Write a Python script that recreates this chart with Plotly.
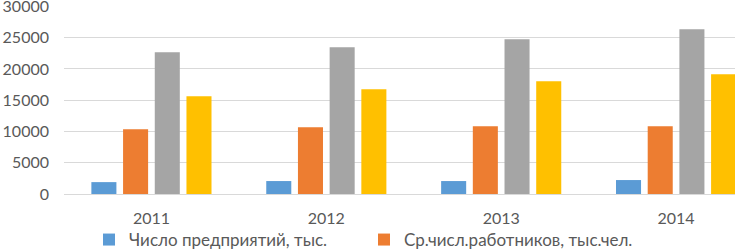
import plotly.graph_objects as go

years = ["2011", "2012", "2013", "2014"]
enterprises = [1900, 2070, 2070, 2230]
employees = [10370, 10690, 10850, 10850]
series3 = [22660, 23460, 24730, 26330]
series4 = [15640, 16750, 18030, 19150]

names = ["Число предприятий, тыс.", "Ср.числ.работников, тыс.чел.", "Ряд 3", "Ряд 4"]
colors = ["#5B9BD5", "#ED7D31", "#A5A5A5", "#FFC000"]
values = [enterprises, employees, series3, series4]
show = [True, True, False, False]

fig = go.Figure()
for n, v, c, s in zip(names, values, colors, show):
    fig.add_trace(go.Bar(x=years, y=v, name=n, marker=dict(color=c, line=dict(width=0)),
                         showlegend=s))

FONT = "Lato, 'Liberation Sans', sans-serif"
fig.update_layout(
    width=735, height=250,
    margin=dict(l=63.5, r=0, t=5.62, b=56, autoexpand=False),
    paper_bgcolor="white", plot_bgcolor="white",
    barmode="group", bargap=0.275, bargroupgap=0.21,
    font=dict(family=FONT, color="#595959"),
    showlegend=True,
    legend=dict(orientation="h", xref="container", yref="container",
                x=89 / 735, xanchor="left", y=1 - 240 / 250, yanchor="middle",
                font=dict(size=17, color="#595959"), entrywidth=230,
                itemwidth=30, bgcolor="rgba(0,0,0,0)"),
)
fig.update_xaxes(type="category", range=[-0.5, 3.337], showgrid=False, showline=False,
                 automargin=False,
                 ticks="", tickfont=dict(size=16, color="#595959"), ticklabelstandoff=13)
fig.update_yaxes(range=[0, 30060], dtick=5000, showgrid=True, gridcolor="#D9D9D9", gridwidth=1,
                 zeroline=True, zerolinecolor="#D9D9D9", zerolinewidth=1, showline=False,
                 automargin=False, ticklabeloverflow="allow",
                 ticks="", tickfont=dict(size=16, color="#595959"), ticklabelstandoff=14,
                 tickformat="d")
fig.write_html("out.html", config={"displayModeBar": False},
               post_script="document.body.style.margin='0';")
